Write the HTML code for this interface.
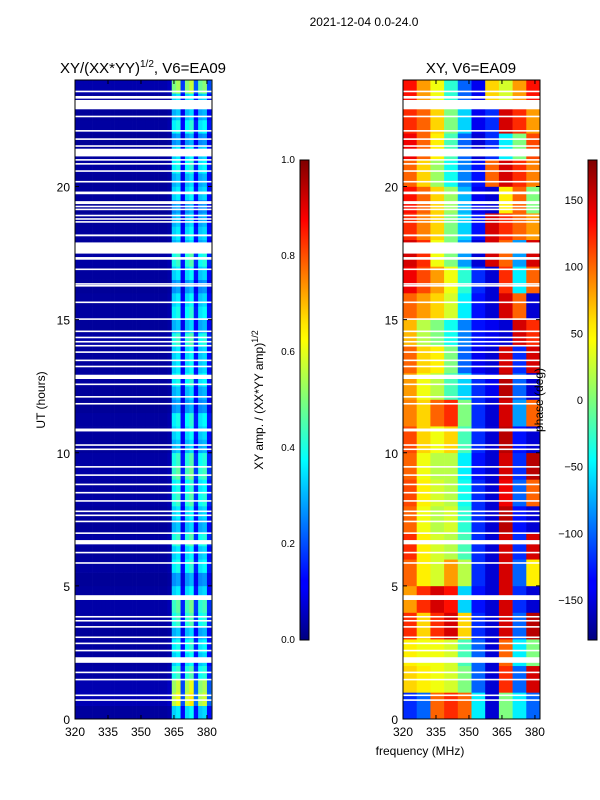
<!DOCTYPE html>
<html><head><meta charset="utf-8"><style>
body{margin:0;background:#fff;}
svg{display:block;font-family:"Liberation Sans","DejaVu Sans",sans-serif;}
</style></head><body>
<svg id="fig" width="600" height="800" viewBox="0 0 600 800">
<defs>
<linearGradient id="jetv" x1="0" y1="1" x2="0" y2="0">
<stop offset="0" stop-color="#00007f"/><stop offset="0.11" stop-color="#0000ff"/><stop offset="0.125" stop-color="#0000ff"/>
<stop offset="0.34" stop-color="#00dcff"/><stop offset="0.375" stop-color="#00ffff"/><stop offset="0.5" stop-color="#7dff7a"/>
<stop offset="0.625" stop-color="#ffff00"/><stop offset="0.66" stop-color="#ffe600"/><stop offset="0.875" stop-color="#ff0000"/><stop offset="1" stop-color="#7f0000"/>
</linearGradient>
</defs>
<text x="364" y="26" font-size="12" text-anchor="middle">2021-12-04 0.0-24.0</text>
<text x="143" y="73" font-size="15" text-anchor="middle">XY/(XX*YY)<tspan font-size="10" dy="-6">1/2</tspan><tspan dy="6">, V6=EA09</tspan></text>
<text x="471" y="73" font-size="15" text-anchor="middle">XY, V6=EA09</text>
<g id="left"></g>
<g id="right"></g>
<g id="axes"></g>
<rect x="300" y="160" width="9" height="480" fill="url(#jetv)" stroke="#000" stroke-width="1"/>
<rect x="588" y="160" width="9" height="480" fill="url(#jetv)" stroke="#000" stroke-width="1"/>
<text transform="translate(45,400) rotate(-90)" font-size="12" text-anchor="middle">UT (hours)</text>
<text x="420" y="755" font-size="12" text-anchor="middle">frequency (MHz)</text>
<text transform="translate(263,400) rotate(-90)" font-size="12" text-anchor="middle">XY amp. / (XX*YY amp)<tspan font-size="9" dy="-5">1/2</tspan></text>
<text transform="translate(543,400) rotate(-90)" font-size="12" text-anchor="middle">phase (deg)</text>
</svg>
<script>
const hourTicks=[0,5,10,15,20];
const freqTicks=[320,335,350,365,380];
const ampTicks=[0.0,0.2,0.4,0.6,0.8,1.0];
const phaseTicks=[-150,-100,-50,0,50,100,150];
const gaps=[[23.54,23.6],[23.3,23.4],[23.19,23.25],[22.9,23.2],[22.6,22.66],[22.06,22.12],[21.75,21.81],[21.49,21.55],[21.13,21.42],[20.97,21.03],[20.82,20.88],[20.55,20.61],[20.15,20.21],[19.71,19.81],[19.34,19.45],[19.22,19.28],[19.11,19.17],[18.88,18.94],[18.75,18.81],[18.64,18.7],[18.13,18.2],[17.48,17.9],[17.25,17.35],[16.86,16.92],[16.31,16.37],[16.24,16.3],[15.62,15.68],[14.99,15.05],[14.53,14.59],[14.3,14.36],[14.14,14.2],[13.99,14.05],[13.75,13.81],[13.44,13.5],[13.21,13.27],[12.77,12.93],[12.54,12.6],[12.07,12.13],[11.81,11.87],[10.8,10.91],[10.26,10.32],[10.1,10.16],[9.44,9.5],[9.13,9.19],[8.78,8.84],[8.47,8.53],[8.16,8.22],[7.77,7.83],[7.62,7.68],[7.39,7.45],[6.95,7.01],[6.56,6.72],[6.22,6.28],[5.83,5.89],[4.47,4.65],[3.81,3.87],[3.66,3.72],[3.43,3.49],[3.04,3.1],[2.81,2.87],[2.54,2.6],[2.11,2.32],[1.72,1.78],[1.45,1.51],[0.86,0.92],[0.68,0.74]];
const ampCols=[0.03,0.03,0.03,0.03,0.03,0.03,0.03,0.03,0.03,0.03,0.03,0.03,0.03,0.03,0.03,0.03,0.03,0.03,0.03,0.03,0.03,0.04,0.33,0.36,0.12,0.34,0.38,0.14,0.32,0.34,0.13,0.3,0.31,0.1];
const ampRows=[1.0,1.7,1.6,1.2,1.0,1.1,0.9,1.2,1.3,1.0,0.8,1.1,1.0,1.2,0.9,1.0,1.2,1.1,1.3,1.2,0.9,1.0,1.1,0.8,0.9,1.1,1.0,1.0,1.2,0.9,1.1,1.0,0.8,1.0,1.2,0.9,1.0,0.9,0.8,1.0,0.9,1.1,1.0,0.8,1.1,0.9,1.0,1.5];
const phaseGrid=[
[-120,-100,100,120,100,-50,-150,0,-50,-100],
[60,50,40,30,0,-100,-150,120,-100,150],
[50,40,40,30,-20,-100,-150,100,-50,0],
[120,60,120,150,60,-120,-150,150,-100,160],
[80,120,150,130,-60,-130,-150,150,-120,-150],
[100,50,30,80,20,-120,-150,150,-100,50],
[120,50,30,20,-20,-120,-150,150,-120,150],
[100,40,20,30,-30,-120,-150,160,-130,-150],
[110,50,30,20,-40,-120,-150,140,-100,100],
[100,40,20,20,-50,-130,-150,150,-120,160],
[110,60,40,60,-20,-120,-150,160,-130,-150],
[90,60,100,120,0,-120,-150,150,-80,100],
[80,40,20,-20,-60,-120,-140,160,-100,-150],
[100,60,50,0,-100,-140,-150,150,-120,150],
[70,20,0,-40,-90,-130,-140,-150,150,120],
[100,80,60,30,-50,-130,-150,150,100,-150],
[140,110,80,40,-30,-120,-150,120,-50,100],
[150,120,40,0,-80,-150,150,100,-80,150],
[120,90,60,0,-60,-130,150,120,100,80],
[130,100,60,10,-70,-140,-150,50,100,0],
[100,60,10,-40,-90,-130,100,150,120,90],
[140,100,50,-20,-100,-150,-120,-50,0,110],
[120,100,60,0,-60,-140,-120,150,120,80],
[130,80,40,-30,-100,-140,60,30,80,130]];

const NS='http://www.w3.org/2000/svg';
const Y0=719,Y1=80,F0=320,F1=382.3;
const yS=h=>Y0+(Y1-Y0)*h/24;
const xL=f=>75+(f-F0)*(137/(F1-F0));
const xR=f=>403+(f-F0)*(137/(F1-F0));
const cbY=t=>640-480*t;
function jet(v){v=Math.max(0,Math.min(1,v));
 const r=Math.min(4*v-1.5,-4*v+4.5),g=Math.min(4*v-0.5,-4*v+3.5),b=Math.min(4*v+0.5,-4*v+2.5);
 const c=x=>Math.round(255*Math.max(0,Math.min(1,x)));return `rgb(${c(r)},${c(g)},${c(b)})`;}
function mk(tag,at,par){const e=document.createElementNS(NS,tag);for(const k in at)e.setAttribute(k,at[k]);par.appendChild(e);return e;}
const L=document.getElementById('left'),R=document.getElementById('right'),A=document.getElementById('axes');
for(let r=0;r<ampRows.length;r++){const h0=r*0.5,h1=h0+0.5;
 for(let c=0;c<ampCols.length;c++){const f0=F0+c*2,f1=Math.min(f0+2,F1);if(f0>=F1)break;
  const e=mk('rect',{x:xL(f0),y:yS(h1),width:xL(f1)-xL(f0)+0.3,height:yS(h0)-yS(h1)+0.3,fill:jet(ampCols[c]*ampRows[r])},L);
  
  }}
const bw=(F1-F0)/phaseGrid[0].length;
for(let r=0;r<phaseGrid.length;r++)for(let c=0;c<phaseGrid[r].length;c++){
 const f0=F0+c*bw,f1=f0+bw;
 const e=mk('rect',{x:xR(f0),y:yS(r+1),width:xR(f1)-xR(f0)+0.3,height:yS(r)-yS(r+1)+0.3,fill:jet((phaseGrid[r][c]+180)/360)},R);
 
 }
for(const g of gaps){for(const xf of [xL,xR]){
 const e=mk('rect',{x:xf(F0),y:yS(g[1]),width:137,height:Math.max(1.2,yS(g[0])-yS(g[1])),fill:'#fff'},xf===xL?L:R);
 
 }}
for(const x0 of [75,403]){
 const fr=mk('rect',{x:x0,y:80,width:137,height:639,fill:'none',stroke:'#000','stroke-width':1},A);
 
 
 for(const h of hourTicks){const y=yS(h);
  mk('line',{x1:x0,x2:x0+4,y1:y,y2:y,stroke:'#000'},A);mk('line',{x1:x0+137,x2:x0+133,y1:y,y2:y,stroke:'#000'},A);
  const t=mk('text',{x:x0-5,y:y+5,'font-size':12,'text-anchor':'end'},A);t.textContent=h;
  
  }
 const xf=x0===75?xL:xR;
 for(const f of freqTicks){const x=xf(f);
  mk('line',{x1:x,x2:x,y1:719,y2:715,stroke:'#000'},A);mk('line',{x1:x,x2:x,y1:80,y2:84,stroke:'#000'},A);
  const t=mk('text',{x:x,y:736,'font-size':12,'text-anchor':'middle'},A);t.textContent=f;
  
  }}
for(const v of ampTicks){const y=cbY(v);
 const t=mk('text',{x:295,y:y+3,'font-size':10,'text-anchor':'end'},A);t.textContent=v.toFixed(1);
 
 }
for(const v of phaseTicks){const y=cbY((v+180)/360);
 const t=mk('text',{x:583,y:y+4,'font-size':11,'text-anchor':'end'},A);t.textContent=v<0?'\u2212'+(-v):v;
 
 }
</script>
</body></html>
